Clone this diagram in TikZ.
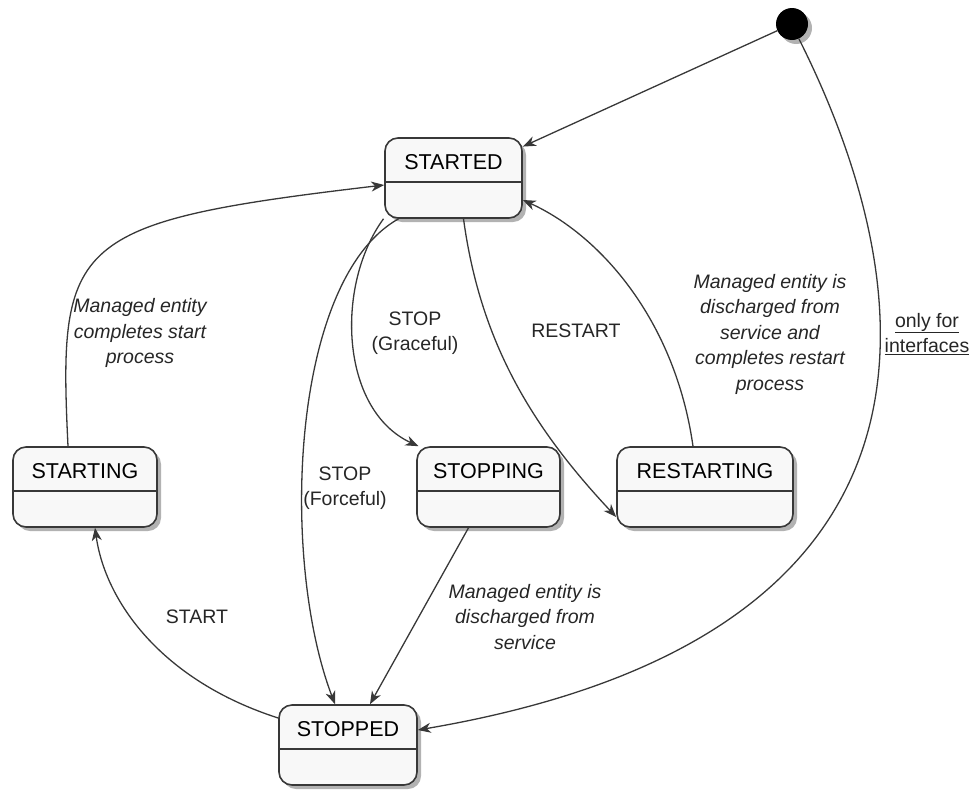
\documentclass[tikz,border=0pt]{standalone}
\usepackage{fontspec}
\setmainfont{Liberation Sans}
\usetikzlibrary{arrows.meta}
\usetikzlibrary{shadows}
\definecolor{linegray}{HTML}{383838}
\definecolor{boxfill}{HTML}{F8F8F8}

\tikzset{
	state/.style={draw=linegray, fill=boxfill, line width=1.6pt, rounded corners=13pt,
		minimum height=80pt, inner ysep=0pt, text height=31pt, text depth=49pt,
		font=\fontsize{21.5}{25}\selectfont,
		drop shadow={shadow xshift=4pt, shadow yshift=-4pt, opacity=.3, fill=black},
		path picture={\draw[linegray, line width=1.6pt]
			([yshift=-44pt]path picture bounding box.north west) --
			([yshift=-44pt]path picture bounding box.north east);}},
	trans/.style={draw=linegray, line width=1.3pt, -{Stealth[length=13pt, width=10pt, inset=4pt]}},
	lbl/.style={font=\fontsize{19.5}{25.5}\selectfont, align=center, text=black!85},
	note/.style={lbl, font=\fontsize{19.5}{25.5}\selectfont\itshape}
}

\begin{document}
\begin{tikzpicture}[x=1pt, y=-1pt]
	\useasboundingbox (0,0) rectangle (974,790);

	\node[circle, fill=black, minimum size=32pt, inner sep=0pt,
	      drop shadow={shadow xshift=4pt, shadow yshift=-4pt, opacity=.3, fill=black}] (init) at (792,24) {};

	\begin{scope}[every node/.style={state}]
		\node[minimum width=137pt] (started) at (453.5,178) {STARTED};
		\node[minimum width=144pt] (starting) at (85,487) {STARTING};
		\node[minimum width=143pt] (stopping) at (488.5,487) {STOPPING};
		\node[minimum width=176pt] (restarting) at (705,487) {RESTARTING};
		\node[minimum width=138pt] (stopped) at (348,745) {STOPPED};
	\end{scope}

	\begin{scope}[every path/.style={trans}]
		\draw (init) -- (started);
		\draw (init.-65) .. controls (905,250) and (1005,630) .. ([yshift=15pt]stopped.east);
		\draw ([xshift=-17pt]starting.north) .. controls (58,240) and (70,222) .. ([yshift=-7pt]started.west);
		\draw ([yshift=27pt]stopped.west) .. controls (160,680) and (105,600) .. ([xshift=10pt]starting.south);
		\draw ([xshift=-55pt]started.south) .. controls (290,280) and (280,560) .. ([xshift=-13pt]stopped.north);
		\draw ([xshift=-70pt]started.south) .. controls (335,285) and (340,410) .. ([xshift=-70pt]stopping.north);
		\draw ([xshift=10pt]started.south) .. controls (480,340) and (530,425) .. ([yshift=-30pt]restarting.west);
		\draw ([xshift=-12pt]restarting.north) .. controls (675,320) and (600,235) .. ([yshift=-22pt]started.east);
		\draw ([xshift=-20pt]stopping.south) -- ([xshift=22pt]stopped.north);
	\end{scope}

	\node[note] (n_started) at (140,333) {Managed entity\\completes start\\process};
	\node[lbl] (l_graceful) at (415,333) {STOP\\(Graceful)};
	\node[lbl] (l_restart) at (576,331) {RESTART};
	\node[note] (n_restarted) at (770,334) {Managed entity is\\discharged from\\service and\\completes restart\\process};
	\node[lbl] (l_iface) at (927,334) {\underline{only for}\\\underline{interfaces}};
	\node[lbl] (l_forceful) at (345,488) {STOP\\(Forceful)};
	\node[note] (n_stopped) at (525,617) {Managed entity is\\discharged from\\service};
	\node[lbl] (l_start) at (197,617) {START};
\end{tikzpicture}
\end{document}
